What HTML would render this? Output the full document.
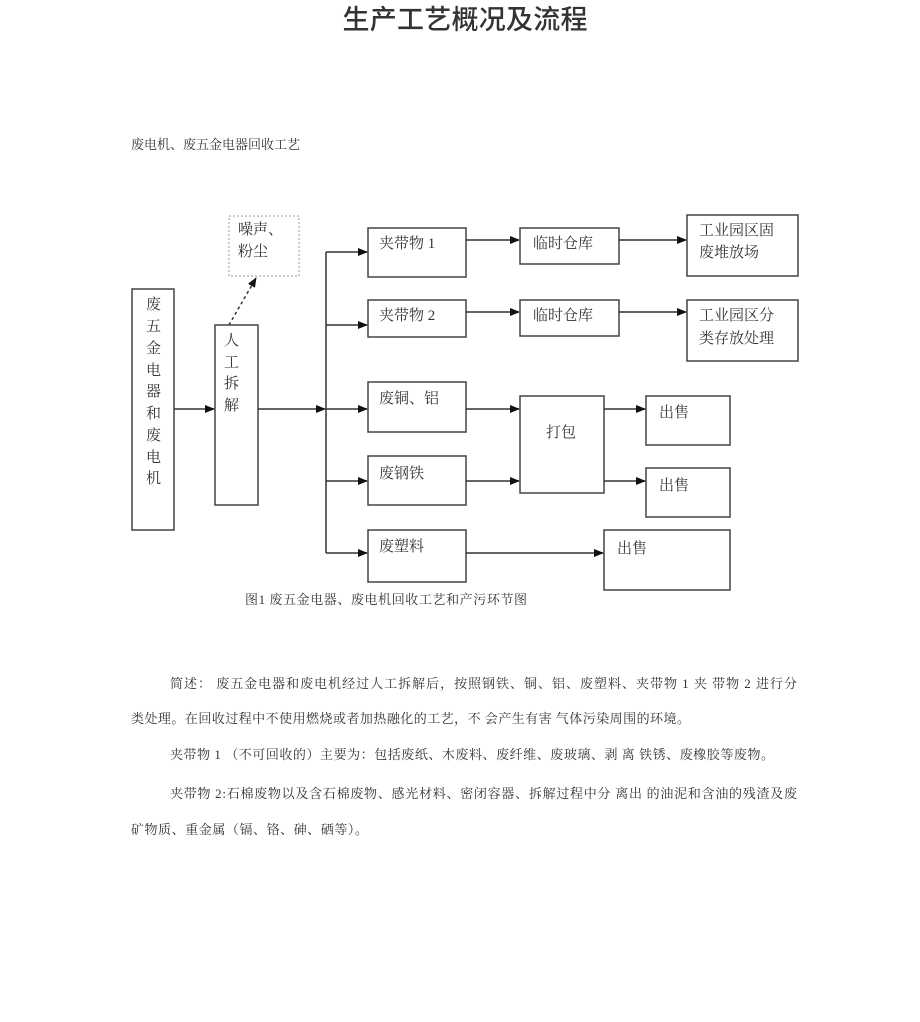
<!DOCTYPE html>
<html><head><meta charset="utf-8"><style>
body{margin:0;background:#fff}
svg text{font-family:"Liberation Serif","Noto Serif CJK SC",serif;fill:#333}
</style></head><body>
<svg width="920" height="1017" xmlns="http://www.w3.org/2000/svg">
<defs><marker id="a" markerWidth="10" markerHeight="8" refX="9" refY="4" orient="auto" markerUnits="userSpaceOnUse"><path d="M0,0 L10,4 L0,8z" fill="#111"/></marker></defs>
<text x="465" y="29" text-anchor="middle" font-size="27" textLength="245" lengthAdjust="spacing" style="font-family:'Liberation Sans','Noto Sans CJK SC',sans-serif;font-weight:500" fill="#111">生产工艺概况及流程</text>
<text x="131" y="149" font-size="13">废电机、废五金电器回收工艺</text>
<g fill="none" stroke="#444" stroke-width="1.5">
<rect x="132" y="289" width="42" height="241"/>
<rect x="215" y="325" width="43" height="180"/>
<rect x="229" y="216" width="70" height="60" stroke="#bbb" stroke-dasharray="2,2"/>
<rect x="368" y="228" width="98" height="49"/>
<rect x="368" y="300" width="98" height="37"/>
<rect x="368" y="382" width="98" height="50"/>
<rect x="368" y="456" width="98" height="49"/>
<rect x="368" y="530" width="98" height="52"/>
<rect x="520" y="228" width="99" height="36"/>
<rect x="520" y="300" width="99" height="36"/>
<rect x="687" y="215" width="111" height="61"/>
<rect x="687" y="300" width="111" height="61"/>
<rect x="520" y="396" width="84" height="97"/>
<rect x="646" y="396" width="84" height="49"/>
<rect x="646" y="468" width="84" height="49"/>
<rect x="604" y="530" width="126" height="60"/>
</g>
<g stroke="#333" stroke-width="1.5" marker-end="url(#a)">
<line x1="174" y1="409" x2="214" y2="409"/>
<line x1="258" y1="409" x2="325" y2="409"/>
<line x1="229" y1="325" x2="256" y2="278" stroke-dasharray="3,3"/>
<line x1="326" y1="252" x2="367" y2="252"/>
<line x1="326" y1="325" x2="367" y2="325"/>
<line x1="326" y1="409" x2="367" y2="409"/>
<line x1="326" y1="481" x2="367" y2="481"/>
<line x1="326" y1="553" x2="367" y2="553"/>
<line x1="466" y1="240" x2="519" y2="240"/>
<line x1="466" y1="312" x2="519" y2="312"/>
<line x1="619" y1="240" x2="686" y2="240"/>
<line x1="619" y1="312" x2="686" y2="312"/>
<line x1="466" y1="409" x2="519" y2="409"/>
<line x1="466" y1="481" x2="519" y2="481"/>
<line x1="604" y1="409" x2="645" y2="409"/>
<line x1="604" y1="481" x2="645" y2="481"/>
<line x1="466" y1="553" x2="603" y2="553"/>
</g>
<line x1="326" y1="252" x2="326" y2="553" stroke="#333" stroke-width="1.5"/>
<g font-size="15">
<text x="146" y="309">废</text><text x="146" y="331">五</text><text x="146" y="353">金</text><text x="146" y="375">电</text><text x="146" y="396">器</text><text x="146" y="418">和</text><text x="146" y="440">废</text><text x="146" y="462">电</text><text x="146" y="483">机</text>
<text x="224" y="345">人</text><text x="224" y="367">工</text><text x="224" y="388">拆</text><text x="224" y="410">解</text>
<text x="238" y="234">噪声、</text><text x="238" y="256">粉尘</text>
<text x="379" y="248">夹带物 1</text>
<text x="379" y="320">夹带物 2</text>
<text x="379" y="403">废铜、铝</text>
<text x="379" y="478">废钢铁</text>
<text x="379" y="551">废塑料</text>
<text x="533" y="248">临时仓库</text>
<text x="533" y="320">临时仓库</text>
<text x="699" y="235">工业园区固</text><text x="699" y="257">废堆放场</text>
<text x="699" y="320">工业园区分</text><text x="699" y="343">类存放处理</text>
<text x="546" y="437">打包</text>
<text x="659" y="417">出售</text>
<text x="659" y="490">出售</text>
<text x="617" y="553">出售</text>
</g>
<text x="245" y="604" font-size="13" fill="#555" textLength="282" lengthAdjust="spacing">图1 废五金电器、废电机回收工艺和产污环节图</text>
<g font-size="13">
<text x="170" y="688" textLength="627" lengthAdjust="spacing">简述： 废五金电器和废电机经过人工拆解后，按照钢铁、铜、铝、废塑料、夹带物 1 夹 带物 2 进行分</text>
<text x="131" y="723" textLength="559" lengthAdjust="spacing">类处理。在回收过程中不使用燃烧或者加热融化的工艺，不 会产生有害 气体污染周围的环境。</text>
<text x="170" y="759" textLength="604" lengthAdjust="spacing">夹带物 1 （不可回收的）主要为：包括废纸、木废料、废纤维、废玻璃、剥 离 铁锈、废橡胶等废物。</text>
<text x="170" y="798" textLength="627" lengthAdjust="spacing">夹带物 2:石棉废物以及含石棉废物、感光材料、密闭容器、拆解过程中分 离出 的油泥和含油的残渣及废</text>
<text x="131" y="834" textLength="237" lengthAdjust="spacing">矿物质、重金属（镉、铬、砷、硒等）。</text>
</g>
</svg>
</body></html>
